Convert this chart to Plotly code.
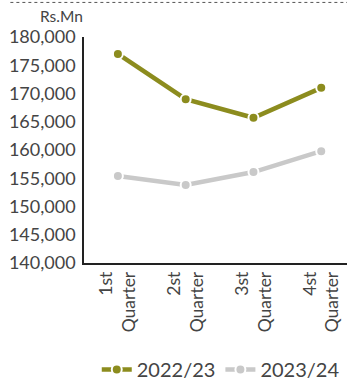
import plotly.graph_objects as go

quarters = ["1st<br>Quarter", "2st<br>Quarter", "3st<br>Quarter", "4st<br>Quarter"]
fy_2022_23 = [177000, 169000, 165700, 171000]
fy_2023_24 = [155400, 153800, 156100, 159800]
y_ticks = list(range(140000, 180001, 5000))

font_family = "Lato, 'Open Sans', sans-serif"
text_color = "#444444"

fig = go.Figure()
for name, values, color in [("2022/23", fy_2022_23, "#8c8c1e"),
                            ("2023/24", fy_2023_24, "#c9c9c9")]:
    fig.add_trace(go.Scatter(
        x=list(range(len(quarters))), y=values, name=name, mode="lines+markers",
        line=dict(color=color, width=4.5),
        marker=dict(color=color, size=10, line=dict(color="white", width=2)),
    ))

fig.update_layout(
    width=347, height=383,
    margin=dict(l=84, r=0, t=37, b=120, autoexpand=False),
    plot_bgcolor="white", paper_bgcolor="white",
    font=dict(family=font_family, color=text_color, size=17.5),
    showlegend=True,
    legend=dict(orientation="h", x=0.52, xanchor="center",
                yref="container", y=0.035, yanchor="middle",
                font=dict(size=20, color=text_color), itemwidth=30),
    xaxis=dict(
        tickmode="array", tickvals=list(range(len(quarters))), ticktext=quarters,
        range=[-0.5, 3.38], tickangle=-90, showgrid=False, zeroline=False,
        showline=True, linecolor="#222222", linewidth=1.5, ticks="",
        tickfont=dict(size=17.5, color=text_color), automargin=False,
    ),
    yaxis=dict(
        range=[140000, 180000], tickvals=y_ticks,
        ticktext=[f"{v:,}" for v in y_ticks], showgrid=False, zeroline=False,
        showline=True, linecolor="#222222", linewidth=1.5, ticks="",
        tickfont=dict(size=18, color=text_color), automargin=False,
        ticklabelstandoff=3,
    ),
    shapes=[dict(type="line", xref="paper", yref="paper", x0=-0.28, x1=1.0,
                 y0=1.153, y1=1.153, line=dict(color="#555555", width=1, dash="dot"))],
    annotations=[dict(text="Rs.Mn", xref="paper", yref="paper", x=0.005, y=1.045,
                      xanchor="right", yanchor="bottom", showarrow=False,
                      font=dict(size=15.5, color=text_color))],
)

fig.write_html("out.html")
